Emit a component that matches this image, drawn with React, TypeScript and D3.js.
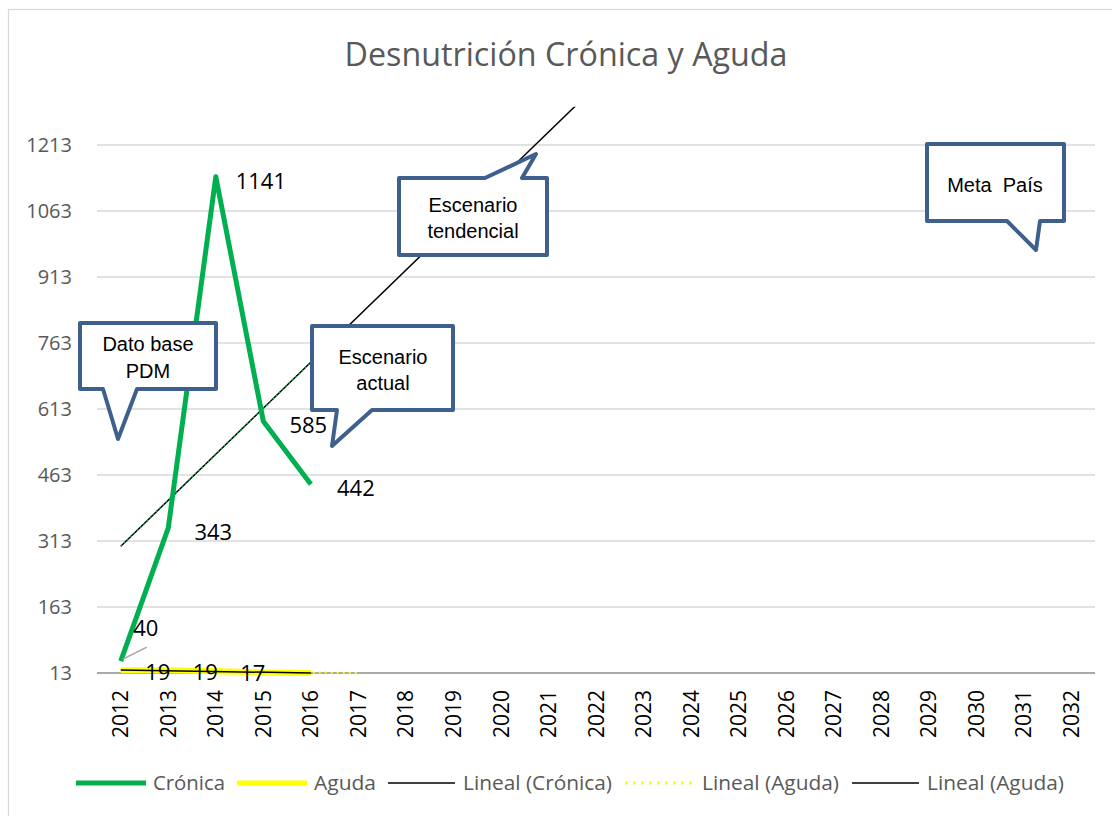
import React from "react";
import * as d3 from "d3";

const years = d3.range(2012, 2033).map(String);
const cronicaYears = ["2012", "2013", "2014", "2015", "2016"];
const cronica = [40, 343, 1141, 585, 442];
const aguda = [19, 19, 17, 14, 13];
const agudaLabels = ["19", "19", "17", "", ""];
const yTicks = [13, 163, 313, 463, 613, 763, 913, 1063, 1213];
const legendItems = ["Crónica", "Aguda", "Lineal (Crónica)", "Lineal (Aguda)", "Lineal (Aguda)"];

const W = 1112, H = 816;
const PL = 97, PR = 1095, PT = 106.7, PB = 673;
const FONT = "'Open Sans', sans-serif";
const CALL = "'Liberation Sans', Arial, sans-serif";
const BLUE = "#3F5F8C";

function linreg(v: number[]) {
  const n = v.length;
  const mx = (n - 1) / 2;
  const my = d3.mean(v) as number;
  let sxy = 0, sxx = 0;
  v.forEach((y, i) => { sxy += (i - mx) * (y - my); sxx += (i - mx) * (i - mx); });
  const b = sxy / sxx;
  return { a: my - b * mx, b };
}

function Callout({ d, lines, cx, y0, lh }: { d: string; lines: string[]; cx: number; y0: number; lh: number }) {
  return (
    <g>
      <path d={d} fill="#fff" stroke={BLUE} strokeWidth={4} strokeLinejoin="round" />
      {lines.map((t, i) => (
        <text key={i} x={cx} y={y0 + i * lh} textAnchor="middle" fontFamily={CALL} fontSize={20} fill="#000" style={{ whiteSpace: "pre" }}>{t}</text>
      ))}
    </g>
  );
}

export default function App() {
  const x = d3.scaleBand().domain(years).range([PL, PR]);
  const cx = (yr: string) => (x(yr) as number) + x.bandwidth() / 2;
  const xi = (i: number) => cx("2012") + i * x.bandwidth();
  const y = d3.scaleLinear().domain([13, 1300]).range([PB, PT]);

  const line = d3.line<number>().x((_, i) => cx(cronicaYears[i])).y((v) => y(v));
  const rc = linreg(cronica);
  const ra = linreg(aguda);
  const trendC = d3.line<number>().x((i) => xi(i)).y((i) => y(rc.a + rc.b * i))([0, 20]) as string;
  const trendCShort = d3.line<number>().x((i) => xi(i)).y((i) => y(rc.a + rc.b * i))([0, 4]) as string;
  const trendA = d3.line<number>().x((i) => xi(i)).y((i) => y(Math.max(13, ra.a + ra.b * i)))([0, 4]) as string;
  const trendAFwd = d3.line<number>().x((i) => xi(i)).y((i) => y(Math.max(13, ra.a + ra.b * i)))([0, 5]) as string;

  const legendX = [76, 237, 388, 625, 852];
  const legendLen = [72, 62, 149, 137, 137];
  const LY = 783;

  return (
    <div style={{ position: "absolute", left: 0, top: 0 }}>
      <svg width={W} height={H} style={{ display: "block" }}>
        <defs>
          <clipPath id="plot"><rect x={PL} y={PT} width={PR - PL} height={PB - PT + 2} /></clipPath>
        </defs>
        <rect x={0} y={0} width={W} height={H} fill="#fff" />
        <rect x={8.5} y={9.5} width={W + 20} height={H + 20} fill="none" stroke="#d9d9d9" strokeWidth={1.2} />
        <text x={566} y={66} textAnchor="middle" fontFamily={FONT} fontSize={32} fill="#595959" textLength={443} lengthAdjust="spacingAndGlyphs">Desnutrición Crónica y Aguda</text>

        {yTicks.map((t) => (
          <g key={t}>
            {t !== 13 && <line x1={PL} x2={PR} y1={y(t)} y2={y(t)} stroke="#d9d9d9" strokeWidth={1.5} />}
            <text x={72} y={y(t)} dy="0.36em" textAnchor="end" fontFamily={FONT} fontSize={20} fill="#595959">{t}</text>
          </g>
        ))}
        <line x1={PL} x2={PR} y1={PB} y2={PB} stroke="#8c8c8c" strokeWidth={1.5} />
        {years.map((yr) => (
          <text key={yr} transform={`translate(${cx(yr)},690) rotate(-90)`} dy="0.36em" textAnchor="end" fontFamily={FONT} fontSize={21} fill="#000">{yr}</text>
        ))}

        <g clipPath="url(#plot)">
          <path d={trendC} stroke="#000" strokeWidth={1.5} fill="none" />
        </g>
        <path d={line(cronica) as string} stroke="#00B050" strokeWidth={5} fill="none" strokeLinejoin="round" />
        <path d={trendCShort} stroke="#00B050" strokeWidth={1.5} strokeDasharray="1.5 3" fill="none" />
        <path d={trendAFwd} stroke="#FFFF00" strokeWidth={2} strokeDasharray="2 4" fill="none" />
        <path d={line(aguda) as string} stroke="#FFFF00" strokeWidth={6} fill="none" strokeLinejoin="round" />
        <path d={trendA} stroke="#000" strokeWidth={1.5} fill="none" />

        {cronica.map((v, i) => {
          const px = cx(cronicaYears[i]), py = y(v);
          if (i === 0) {
            return (
              <g key={i}>
                <line x1={px + 2} y1={py - 2} x2={px + 26} y2={py - 14} stroke="#a6a6a6" strokeWidth={1.5} />
                <text x={px + 25} y={py - 33} dy="0.36em" textAnchor="middle" fontFamily={FONT} fontSize={22} fill="#000">{v}</text>
              </g>
            );
          }
          return <text key={i} x={px + 45} y={py + 4} dy="0.36em" textAnchor="middle" fontFamily={FONT} fontSize={22} fill="#000">{v}</text>;
        })}
        {aguda.map((v, i) => agudaLabels[i] ? (
          <text key={i} x={cx(cronicaYears[i]) + 37} y={y(v) + 2} dy="0.36em" textAnchor="middle" fontFamily={FONT} fontSize={22} fill="#000">{agudaLabels[i]}</text>
        ) : null)}

        <Callout d="M80,323 H216 V389 H137 L118,439 L103,389 H80 Z" lines={["Dato base", "PDM"]} cx={148} y0={351} lh={27} />
        <Callout d="M312,326 H453 V410 H372 L332,446 L337,410 H312 Z" lines={["Escenario", "actual"]} cx={383} y0={364} lh={26} />
        <Callout d="M399,178 H485 L536,154 L522,178 H547 V255 H399 Z" lines={["Escenario", "tendencial"]} cx={473} y0={212} lh={26} />
        <Callout d="M927,144 H1064 V221 H1040 L1036,250 L1007,221 H927 Z" lines={["Meta  País"]} cx={995} y0={192} lh={26} />

        {legendItems.map((t, i) => {
          const lx = legendX[i];
          const stroke = i === 0 ? "#00B050" : i === 1 || i === 3 ? "#FFFF00" : "#000";
          const sw = i < 2 ? 5 : i === 3 ? 3 : 1.5;
          return (
            <g key={i}>
              <line x1={lx} x2={lx + (i < 2 ? 70 : 67)} y1={LY} y2={LY} stroke={stroke} strokeWidth={sw} strokeDasharray={i === 3 ? "3 5" : undefined} />
              <text x={lx + (i < 2 ? 77 : i === 3 ? 77 : 75)} y={LY} dy="0.36em" fontFamily={FONT} fontSize={20} fill="#595959" textLength={legendLen[i]} lengthAdjust="spacingAndGlyphs">{t}</text>
            </g>
          );
        })}
      </svg>
    </div>
  );
}
